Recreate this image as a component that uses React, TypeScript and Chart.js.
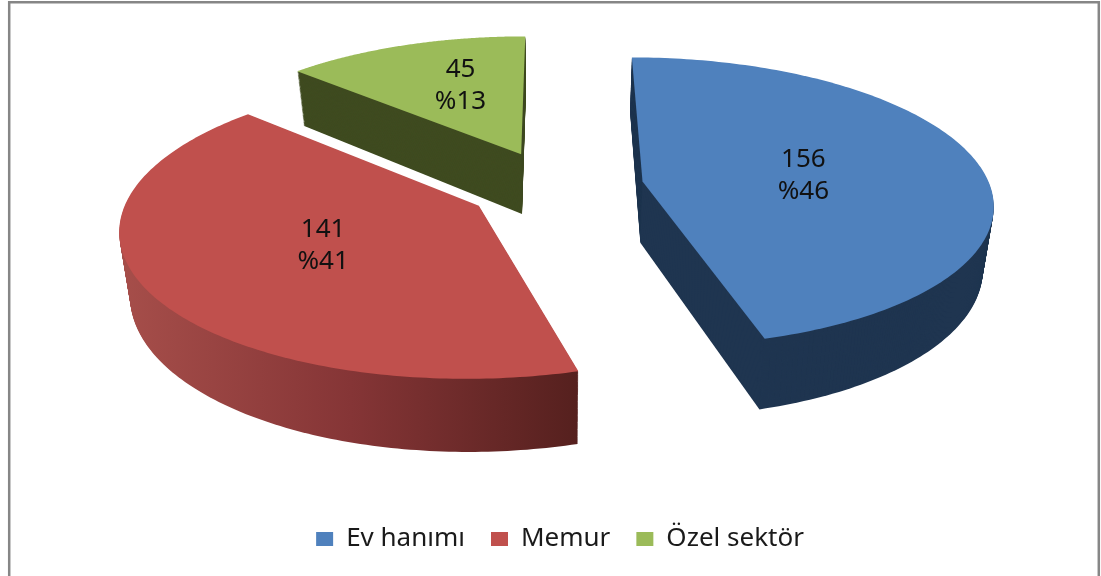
import React, { useEffect, useRef } from "react";
import { Chart, registerables } from "chart.js";

Chart.register(...registerables);

const categories = ["Ev hanımı", "Memur", "Özel sektör"];
const counts = [156, 141, 45];
const topColors = ["#4f81bd", "#c0504d", "#9bbb59"];
const FONT = '"Noto Sans", sans-serif';

// View of the pie: a tilted plane seen in perspective
const view = { cx: 555.5, cy: 186.5, ax: 347.6, dy: 116.7, g: 0.14, explode: 0.254, depth: 61.5, shrink: 0.025, labelAt: 0.5 };
const labelNudge = [[-8, 4], [4, -1], [1, -11]];

const project = (x: number, y: number) => {
  const w = 1 - view.g * y;
  return { x: view.cx + (view.ax * x) / w, y: (view.cy + view.dy * y) / w, drop: view.depth / w };
};

const wallFill = (ctx: CanvasRenderingContext2D, i: number) => {
  if (i === 0) return "#1f3550";
  if (i === 2) return "#3f4b20";
  const g = ctx.createLinearGradient(122, 0, 580, 0);
  g.addColorStop(0, "#a64e4a");
  g.addColorStop(0.5, "#853536");
  g.addColorStop(1, "#55201e");
  return g;
};

const pie3d = {
  id: "pie3d",
  beforeDraw(chart: any) {
    const { ctx } = chart;
    ctx.save();
    ctx.strokeStyle = "#868686";
    ctx.lineWidth = 2.5;
    ctx.beginPath();
    ctx.moveTo(9.2, 576);
    ctx.lineTo(9.2, 2.2);
    ctx.lineTo(1098.8, 2.2);
    ctx.lineTo(1098.8, 576);
    ctx.stroke();
    ctx.restore();
  },
  beforeDatasetsDraw(chart: any) {
    const { ctx } = chart;
    const arcs = chart.getDatasetMeta(0).data;
    const total = counts.reduce((a, b) => a + b, 0);
    ctx.save();
    [2, 1, 0].forEach((i) => {
      const { startAngle, endAngle } = arcs[i].getProps(["startAngle", "endAngle"], true);
      const mid = (startAngle + endAngle) / 2;
      const ox = view.explode * Math.cos(mid);
      const oy = view.explode * Math.sin(mid);
      const pts = [project(ox, oy)];
      const steps = 160;
      for (let s = 0; s <= steps; s++) {
        const a = startAngle + ((endAngle - startAngle) * s) / steps;
        pts.push(project(ox + Math.cos(a), oy + Math.sin(a)));
      }
      const trace = (t: number) => {
        ctx.beginPath();
        pts.forEach((p, k) => {
          const px = p.x + (view.cx - p.x) * view.shrink * t;
          const py = p.y + p.drop * t;
          if (k) ctx.lineTo(px, py);
          else ctx.moveTo(px, py);
        });
        ctx.closePath();
      };
      ctx.fillStyle = wallFill(ctx, i);
      for (let k = 70; k > 0; k--) {
        trace(k / 70);
        ctx.fill();
      }
      trace(0);
      ctx.fillStyle = topColors[i];
      ctx.fill();

      const f = view.labelAt;
      const c = project(ox + f * Math.cos(mid), oy + f * Math.sin(mid));
      const lx = c.x + labelNudge[i][0];
      const ly = c.y + labelNudge[i][1];
      ctx.fillStyle = "#111";
      ctx.font = `26px ${FONT}`;
      ctx.textAlign = "center";
      ctx.textBaseline = "middle";
      ctx.fillText(String(counts[i]), lx, ly - 16);
      ctx.fillText(`%${Math.round((counts[i] / total) * 100)}`, lx, ly + 16);
    });
    ctx.restore();
    return false;
  },
};

export default function App() {
  const ref = useRef<HTMLCanvasElement>(null);
  useEffect(() => {
    const chart = new Chart(ref.current as HTMLCanvasElement, {
      type: "pie",
      data: {
        labels: categories,
        datasets: [{ data: counts, backgroundColor: topColors, borderWidth: 0 }],
      },
      options: {
        animation: false,
        responsive: false,
        layout: { padding: { bottom: 14, left: 19 } },
        plugins: {
          tooltip: { enabled: false },
          legend: {
            position: "bottom",
            labels: {
              boxWidth: 17,
              boxHeight: 14,
              padding: 26,
              color: "#1a1a1a",
              font: { family: FONT, size: 26 },
            },
          },
        },
      },
      plugins: [pie3d],
    } as any);
    return () => chart.destroy();
  }, []);
  return (
    <div style={{ position: "absolute", left: 0, top: 0, width: 1101, height: 576, background: "#fff" }}>
      <canvas ref={ref} width={1101} height={576} style={{ display: "block" }} />
    </div>
  );
}
